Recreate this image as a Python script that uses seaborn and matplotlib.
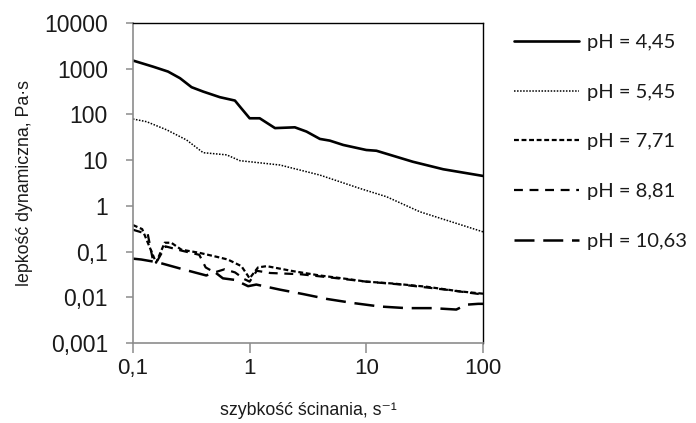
import numpy as np
import pandas as pd
import matplotlib
matplotlib.use("Agg")
import matplotlib.pyplot as plt
from matplotlib.ticker import FixedLocator, FixedFormatter, NullLocator
import seaborn as sns

# shear rate [1/s] and dynamic viscosity [Pa s]
x_445 = [0.1, 0.149, 0.2, 0.253, 0.318, 0.40, 0.556, 0.748, 0.826, 1.0, 1.22, 1.65, 2.44,
         3.07, 4.0, 4.87, 6.34, 10, 12.2, 25, 45.6, 100]
y_445 = [1500, 1100, 860, 617, 392, 314, 237, 200, 147, 82, 82, 50, 52,
         42, 29, 26.6, 21.4, 16.6, 16, 9.2, 6.3, 4.5]

x_545 = [0.1, 0.131, 0.195, 0.288, 0.40, 0.635, 0.826, 1.82, 4.0, 8.8, 14.9, 28.8, 100]
y_545 = [79, 69, 45.7, 27.5, 14.5, 13, 9.7, 7.8, 4.7, 2.4, 1.58, 0.74, 0.27]

x_771 = [0.1, 0.12, 0.158, 0.187, 0.213, 0.26, 0.37, 0.52, 0.65, 0.85, 1.0, 1.18, 1.4,
         2.4, 4, 7, 10, 17, 33, 63, 100]
y_771 = [0.38, 0.31, 0.057, 0.156, 0.156, 0.11, 0.094, 0.077, 0.067, 0.048, 0.026, 0.045, 0.048,
         0.037, 0.030, 0.025, 0.022, 0.020, 0.017, 0.0135, 0.012]

x_881 = [0.1, 0.134, 0.148, 0.16, 0.19, 0.26, 0.37, 0.42, 0.5, 0.61, 0.75, 0.9, 1.0, 1.15,
         1.5, 2.7, 5, 10, 20, 50, 100]
y_881 = [0.30, 0.24, 0.067, 0.06, 0.13, 0.105, 0.085, 0.045, 0.035, 0.041, 0.035, 0.025, 0.022, 0.038,
         0.034, 0.032, 0.027, 0.022, 0.019, 0.0145, 0.0115]

x_1063 = [0.1, 0.118, 0.164, 0.268, 0.425, 0.5, 0.59, 0.75, 0.97, 1.14, 1.82, 2.86, 4.6, 7.7,
          13, 22, 37, 59, 72, 91, 100]
y_1063 = [0.07, 0.067, 0.058, 0.041, 0.030, 0.036, 0.026, 0.024, 0.0175, 0.019, 0.0147, 0.0118, 0.0092, 0.0075,
          0.0063, 0.0058, 0.0058, 0.0054, 0.0069, 0.0072, 0.0072]

labels = ["pH = 4,45", "pH = 5,45", "pH = 7,71", "pH = 8,81", "pH = 10,63"]
x_ticks = [0.1, 1, 10, 100]
x_ticklabels = ["0,1", "1", "10", "100"]
y_ticks = [0.001, 0.01, 0.1, 1, 10, 100, 1000, 10000]
y_ticklabels = ["0,001", "0,01", "0,1", "1", "10", "100", "1000", "10000"]

series = [(x_445, y_445), (x_545, y_545), (x_771, y_771), (x_881, y_881), (x_1063, y_1063)]
styles = [
    dict(linestyle="-", linewidth=1.9),
    dict(linestyle=(0, (1, 1)), linewidth=1.1),
    dict(linestyle=(0, (2.2, 1.2)), linewidth=1.6),
    dict(linestyle=(0, (4, 3)), linewidth=1.6),
    dict(linestyle=(0, (8, 3.5)), linewidth=1.8),
]

sns.set_style("white")
plt.rcParams["font.family"] = ["Liberation Sans", "DejaVu Sans"]

fig = plt.figure(figsize=(6.96, 4.23), dpi=100)
ax = fig.add_axes([0.191, 0.189, 0.503, 0.757])

for (xs, ys), lab, st in zip(series, labels, styles):
    df = pd.DataFrame({"x": xs, "y": ys})
    sns.lineplot(data=df, x="x", y="y", ax=ax, color="black", label=lab, sort=False, **st)

ax.set_xscale("log")
ax.set_yscale("log")
ax.set_xlim(0.1, 100)
ax.set_ylim(0.001, 10000)
ax.xaxis.set_major_locator(FixedLocator(x_ticks))
ax.xaxis.set_major_formatter(FixedFormatter(x_ticklabels))
ax.yaxis.set_major_locator(FixedLocator(y_ticks))
ax.yaxis.set_major_formatter(FixedFormatter(y_ticklabels))
ax.xaxis.set_minor_locator(NullLocator())
ax.yaxis.set_minor_locator(NullLocator())

for side in ["left", "bottom"]:
    ax.spines[side].set_color("#8c8c8c")
    ax.spines[side].set_linewidth(1.2)
for side in ["top", "right"]:
    ax.spines[side].set_color("black")
    ax.spines[side].set_linewidth(1.0)

ax.tick_params(axis="x", which="major", direction="out", length=7, width=1.1,
               color="#8c8c8c", labelsize=16, labelcolor="#1a1a1a", pad=4, bottom=True)
ax.tick_params(axis="y", which="major", direction="out", length=5, width=1.1,
               color="#8c8c8c", labelsize=16.5, labelcolor="#1a1a1a", pad=13, left=True)

ax.set_xlabel("szybkość ścinania, s⁻¹", fontsize=12.8, labelpad=16, color="#1a1a1a")
ax.set_ylabel("lepkość dynamiczna, Pa·s", fontsize=12.8, labelpad=8, color="#1a1a1a")

handles, labs = ax.get_legend_handles_labels()
ax.legend_.remove()
fig.legend(handles, labs, loc="upper left", bbox_to_anchor=(0.712, 0.963),
           frameon=False, handlelength=3.25, handletextpad=0.4, labelspacing=1.62,
           prop={"family": ["Lato", "DejaVu Sans"], "size": 14.5}, labelcolor="#1a1a1a")

fig.savefig("out.png", dpi=100)
